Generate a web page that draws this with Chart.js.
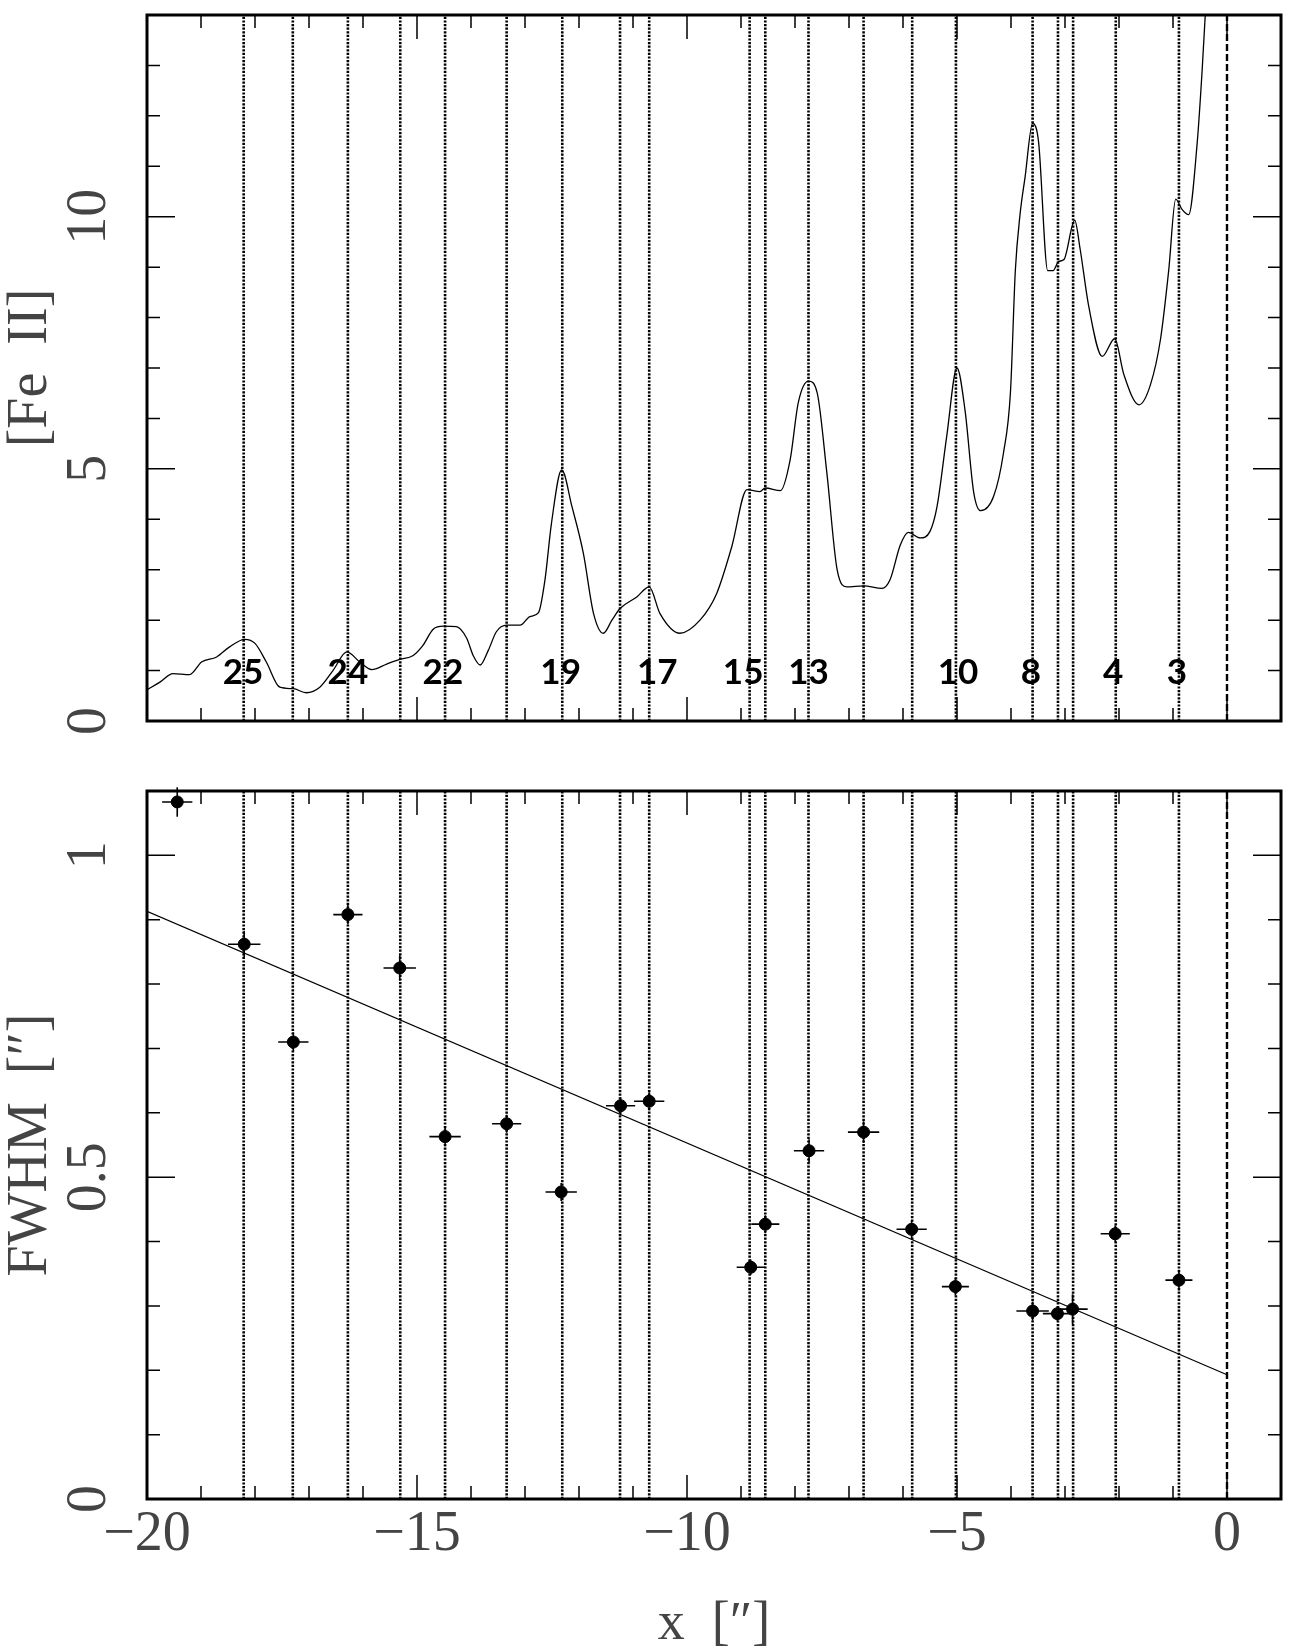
<!DOCTYPE html>
<html><head><meta charset="utf-8">
<script src="https://cdn.jsdelivr.net/npm/chart.js@4.4.0/dist/chart.umd.min.js"></script>
<style>
html,body{margin:0;padding:0;background:#fff;overflow:hidden;width:1294px;height:1650px;}
canvas{position:absolute;left:0;}
#c1{top:0;}
#c2{top:738px;}
</style></head><body>
<canvas id="c1" width="1294" height="738" style="width:1294px;height:738px"></canvas>
<canvas id="c2" width="1294" height="914" style="width:1294px;height:914px"></canvas>
<script>
// ---- axis tick labels ----
const xTickValues = [-20, -15, -10, -5, 0];
const feTickValues = [0, 5, 10];
const fwhmTickValues = [0, 0.5, 1];
const xLimits = [-20, 1];
const feLimits = [0, 14];
const fwhmLimits = [0, 1.1];

// ---- knot positions (vertical dotted lines) ----
const knotX = [-18.21, -17.30, -16.28, -15.31, -14.48, -13.34, -12.31, -11.24, -10.70,
  -8.84, -8.55, -7.75, -6.73, -5.83, -5.02, -3.60, -3.13, -2.85, -2.06, -0.89];
const refX = [0];

// ---- knot labels ----
const knotLabels = ["25", "24", "22", "19", "17", "15", "13", "10", "8", "4", "3"];
const knotLabelX = [-18.22, -16.28, -14.52, -12.34, -10.55, -8.96, -7.75, -4.98, -3.63, -2.11, -0.93];
const knotLabelY = [0.95, 0.95, 0.95, 0.95, 0.95, 0.95, 0.95, 0.95, 0.95, 0.95, 0.95];

// ---- [Fe II] profile ----
const fexX = [-20.00, -19.76, -19.52, -19.21, -18.99, -18.71, -18.47, -18.19, -18.00, -17.79,
  -17.54, -17.29, -17.05, -16.80, -16.55, -16.30, -16.06, -15.84, -15.56, -15.32,
  -15.07, -14.89, -14.70, -14.51, -14.27, -14.08, -13.96, -13.83, -13.68, -13.53,
  -13.34, -13.09, -12.91, -12.75, -12.63, -12.51, -12.32, -12.13, -11.92, -11.73,
  -11.55, -11.39, -11.24, -10.93, -10.70, -10.50, -10.13, -9.76, -9.45, -9.17,
  -8.89, -8.65, -8.55, -8.27, -8.09, -7.94, -7.75, -7.59, -7.41, -7.22,
  -7.04, -6.73, -6.39, -6.24, -6.05, -5.90, -5.68, -5.50, -5.37, -5.19,
  -5.00, -4.85, -4.69, -4.56, -4.32, -4.14, -4.01, -3.92, -3.83, -3.74,
  -3.60, -3.49, -3.32, -3.22, -3.12, -3.02, -2.82, -2.72, -2.56, -2.31,
  -2.08, -1.91, -1.63, -1.42, -1.23, -1.08, -0.95, -0.83, -0.71, -0.55,
  -0.46, -0.40, -0.36];
const fexY = [0.62, 0.77, 0.94, 0.92, 1.17, 1.27, 1.47, 1.62, 1.54, 1.17,
  0.67, 0.64, 0.56, 0.67, 1.01, 1.37, 1.17, 1.02, 1.13, 1.22,
  1.30, 1.50, 1.82, 1.88, 1.87, 1.64, 1.30, 1.11, 1.40, 1.77,
  1.90, 1.90, 2.07, 2.15, 2.80, 3.92, 4.98, 4.25, 3.33, 2.13,
  1.74, 2.00, 2.23, 2.46, 2.66, 2.13, 1.74, 2.00, 2.53, 3.46,
  4.59, 4.55, 4.62, 4.57, 5.18, 6.31, 6.74, 6.51, 4.92, 3.00,
  2.66, 2.68, 2.63, 2.80, 3.49, 3.74, 3.63, 3.76, 4.25, 5.65,
  7.00, 6.15, 4.53, 4.17, 4.46, 5.31, 6.52, 8.93, 10.07, 10.78,
  11.85, 11.49, 8.93, 8.93, 9.11, 9.15, 9.93, 9.36, 8.22, 7.23,
  7.58, 6.87, 6.27, 6.66, 7.58, 8.93, 10.35, 10.14, 10.04, 11.49,
  12.91, 14.05, 15.0];

// ---- FWHM measurements ----
const fwhmX = [-19.44, -18.20, -17.29, -16.28, -15.32, -14.48, -13.34, -12.33, -11.23, -10.70,
  -8.82, -8.55, -7.74, -6.73, -5.84, -5.03, -3.60, -3.14, -2.86, -2.07, -0.89];
const fwhmY = [1.083, 0.862, 0.710, 0.908, 0.825, 0.563, 0.583, 0.477, 0.611, 0.618,
  0.360, 0.427, 0.541, 0.570, 0.419, 0.330, 0.292, 0.288, 0.295, 0.412, 0.340];
const fwhmXErr = [0.28, 0.30, 0.28, 0.27, 0.30, 0.29, 0.27, 0.29, 0.27, 0.28,
  0.26, 0.26, 0.28, 0.29, 0.28, 0.25, 0.30, 0.27, 0.28, 0.27, 0.25];
const fwhmYErr = [0.023, 0.020, 0.015, 0.015, 0.020, 0.015, 0.014, 0.014, 0.013, 0.014,
  0.012, 0.014, 0.018, 0.017, 0.014, 0.014, 0.015, 0.012, 0.023, 0.013, 0.016];

// ---- linear fit ----
const fitX = [-20, 0];
const fitY = [0.913, 0.193];

const SERIF = "'Liberation Serif', 'DejaVu Serif', serif";
const TXT = '#444';
const fmt = v => String(v).replace('-', '\u2212');

const frameTicks = {
  id: 'frameTicks',
  afterDraw(chart, args, opts) {
    const {ctx, chartArea: a} = chart;
    const x = chart.scales.x, y = chart.scales.y;
    ctx.save();
    ctx.strokeStyle = '#000';
    ctx.lineWidth = 1.5;
    ctx.beginPath();
    for (let i = 0; ; i++) {
      const v = x.min + i * opts.xMinor;
      if (v > x.max + 1e-9) break;
      const r = v / opts.xMajor;
      const L = Math.abs(r - Math.round(r)) < 1e-6 ? 24 : 13;
      const px = x.getPixelForValue(v);
      ctx.moveTo(px, a.bottom); ctx.lineTo(px, a.bottom - L);
      ctx.moveTo(px, a.top); ctx.lineTo(px, a.top + L);
    }
    for (let i = 0; ; i++) {
      const v = y.min + i * opts.yMinor;
      if (v > y.max + 1e-9) break;
      const r = v / opts.yMajor;
      const L = Math.abs(r - Math.round(r)) < 1e-6 ? 28 : 13;
      const py = y.getPixelForValue(v);
      ctx.moveTo(a.left, py); ctx.lineTo(a.left + L, py);
      ctx.moveTo(a.right, py); ctx.lineTo(a.right - L, py);
    }
    ctx.stroke();
    ctx.lineWidth = 3;
    ctx.strokeRect(a.left, a.top, a.right - a.left, a.bottom - a.top);
    ctx.restore();
  }
};

const knotLabelPlugin = {
  id: 'knotLabels',
  afterDatasetsDraw(chart) {
    const {ctx} = chart;
    const x = chart.scales.x, y = chart.scales.y;
    ctx.save();
    ctx.fillStyle = '#000';
    ctx.font = "bold 35px Lato, 'DejaVu Sans', sans-serif";
    ctx.textAlign = 'center';
    ctx.textBaseline = 'middle';
    knotLabels.forEach((t, i) => {
      ctx.fillText(t, x.getPixelForValue(knotLabelX[i]), y.getPixelForValue(knotLabelY[i]));
    });
    ctx.restore();
  }
};

const errorBars = {
  id: 'errorBars',
  afterDatasetsDraw(chart) {
    const {ctx} = chart;
    const x = chart.scales.x, y = chart.scales.y;
    ctx.save();
    ctx.strokeStyle = '#000';
    ctx.lineWidth = 1.6;
    ctx.beginPath();
    fwhmX.forEach((xv, i) => {
      const yv = fwhmY[i];
      const py = y.getPixelForValue(yv), px = x.getPixelForValue(xv);
      ctx.moveTo(x.getPixelForValue(xv - fwhmXErr[i]), py);
      ctx.lineTo(x.getPixelForValue(xv + fwhmXErr[i]), py);
      ctx.moveTo(px, y.getPixelForValue(yv - fwhmYErr[i]));
      ctx.lineTo(px, y.getPixelForValue(yv + fwhmYErr[i]));
    });
    ctx.stroke();
    ctx.restore();
  }
};

function vlineSets(ymin, ymax) {
  const sets = knotX.map(k => ({
    data: [{x: k, y: ymin}, {x: k, y: ymax}],
    showLine: true, borderColor: '#000', borderWidth: 2.6, borderDash: [2.2, 1.4],
    pointRadius: 0, order: 5
  }));
  refX.forEach(k => sets.push({
    data: [{x: k, y: ymin}, {x: k, y: ymax}],
    showLine: true, borderColor: '#000', borderWidth: 2.4, borderDash: [7, 3],
    pointRadius: 0, order: 5
  }));
  return sets;
}

function xScale(showLabels, height) {
  return {
    type: 'linear', min: xLimits[0], max: xLimits[1],
    afterBuildTicks: s => { s.ticks = xTickValues.map(v => ({value: v})); },
    afterFit: s => { s.height = height; s.paddingLeft = 0; s.paddingRight = 0; },
    grid: {display: false, drawTicks: false},
    border: {display: false},
    ticks: {
      display: showLabels, padding: 8, color: TXT, autoSkip: false,
      minRotation: 0, maxRotation: 0,
      font: {family: SERIF, size: 56, lineHeight: 1},
      callback: v => fmt(v)
    },
    title: {
      display: showLabels, text: 'x  [\u2033]', color: TXT, padding: 0,
      font: {family: SERIF, size: 54, lineHeight: 1}
    }
  };
}

function yScale(lims, tickVals, title, pad) {
  return {
    type: 'linear', min: lims[0], max: lims[1],
    afterBuildTicks: s => { s.ticks = tickVals.map(v => ({value: v})); },
    afterFit: s => { s.width = 147; s.paddingTop = 0; s.paddingBottom = 0; },
    grid: {display: false, drawTicks: false},
    border: {display: false},
    ticks: {
      minRotation: 90, maxRotation: 90, crossAlign: 'center', padding: pad,
      color: TXT, font: {family: SERIF, size: 56, lineHeight: 1},
      callback: v => fmt(v)
    },
    title: {
      display: true, text: title, color: TXT, padding: {top: 3, bottom: 0},
      font: {family: SERIF, size: 56, lineHeight: 1}
    }
  };
}

const common = {
  responsive: false, animation: false, devicePixelRatio: 1,
  plugins: {legend: {display: false}, tooltip: {enabled: false}}
};

new Chart(document.getElementById('c1'), {
  type: 'scatter',
  data: {
    datasets: [
      ...vlineSets(feLimits[0], feLimits[1]),
      {
        data: fexX.map((xv, i) => ({x: xv, y: fexY[i]})),
        showLine: true, borderColor: '#000', borderWidth: 1.3, pointRadius: 0,
        cubicInterpolationMode: 'monotone', order: 1
      }
    ]
  },
  options: {
    ...common,
    layout: {padding: {top: 15, right: 13, bottom: 0, left: 0}},
    scales: {
      x: xScale(false, 17),
      y: yScale(feLimits, feTickValues, '[Fe  II]', 29)
    },
    plugins: {...common.plugins, frameTicks: {xMinor: 1, xMajor: 5, yMinor: 1, yMajor: 5}}
  },
  plugins: [knotLabelPlugin, frameTicks]
});

new Chart(document.getElementById('c2'), {
  type: 'scatter',
  data: {
    datasets: [
      ...vlineSets(fwhmLimits[0], fwhmLimits[1]),
      {
        data: fitX.map((xv, i) => ({x: xv, y: fitY[i]})),
        showLine: true, borderColor: '#000', borderWidth: 1.2, pointRadius: 0, order: 2
      },
      {
        data: fwhmX.map((xv, i) => ({x: xv, y: fwhmY[i]})),
        showLine: false, pointRadius: 6, pointBackgroundColor: '#000',
        pointBorderColor: '#000', pointBorderWidth: 1, order: 1
      }
    ]
  },
  options: {
    ...common,
    layout: {padding: {top: 53, right: 13, bottom: 0, left: 0}},
    scales: {
      x: xScale(true, 153),
      y: yScale(fwhmLimits, fwhmTickValues, 'FWHM  [\u2033]', 22)
    },
    plugins: {...common.plugins, frameTicks: {xMinor: 1, xMajor: 5, yMinor: 0.1, yMajor: 0.5}}
  },
  plugins: [errorBars, frameTicks]
});
</script>
</body></html>
